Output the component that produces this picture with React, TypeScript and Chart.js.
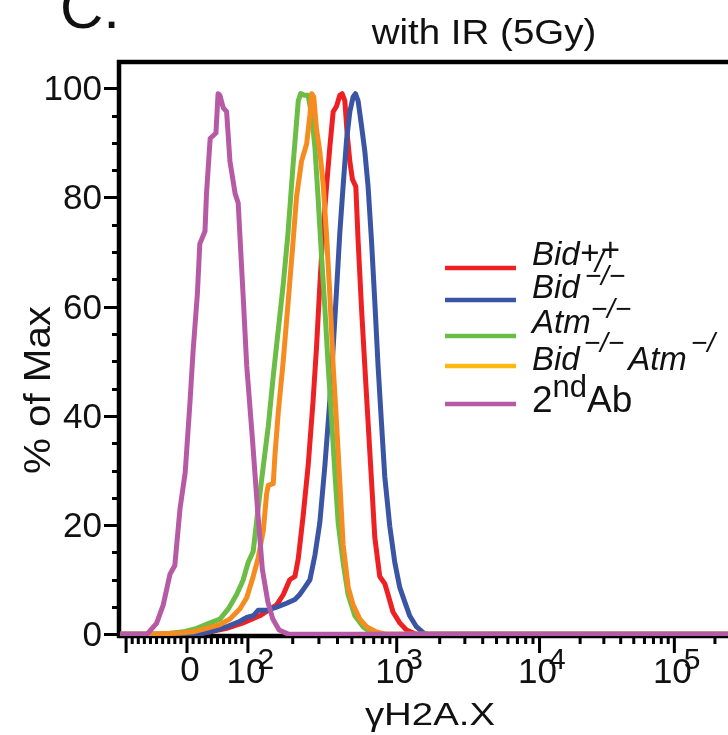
import React, { useEffect, useRef } from 'react';
import { Chart, registerables } from 'chart.js';

Chart.register(...registerables);

const FONT = '"Liberation Sans", Arial, Helvetica, sans-serif';

// ---- data: fluorescence intensity (gammaH2A.X) vs % of Max ----
const bidWtX = [-110, 10.4, 38, 65, 92, 120, 156, 173, 191, 207, 218, 235, 254, 274, 289, 304, 320, 337.5, 355, 374, 394, 414.5, 429.5, 448, 464, 484, 504, 531, 550, 580, 610, 642, 676.5, 712, 769, 831, 874, 944, 1050, 1169, 1373, 1e6];
const bidWtY = [0, 0, 0.46, 1.1, 2.1, 3.4, 5.4, 7.3, 10, 10.6, 13.9, 21.7, 30.9, 42.7, 52.5, 63.7, 74.1, 82, 89.2, 95.7, 96.7, 98.7, 99, 97.7, 91.8, 86.6, 83.3, 82, 72.2, 59.7, 49.2, 38.8, 28.3, 17.8, 10.6, 9.3, 7.3, 4.1, 2.1, 0.8, 0, 0];

const bidKoX = [-110, 16, 38, 65, 87, 98, 108.5, 117, 133.5, 156, 182, 207, 223, 241, 261, 282, 304, 329, 355, 374, 394, 414.5, 436, 460, 484, 509, 528, 550, 580, 610, 642, 676.5, 712, 749, 789.5, 831, 898, 970, 1050, 1137, 1233, 1373, 1570, 1701, 1e6];
const bidKoY = [0, 0, 0.46, 1.4, 2.4, 3.1, 3.4, 4.4, 4.4, 5, 5.7, 6.4, 7.3, 8.6, 10, 14.5, 20.4, 30.9, 42.7, 52.5, 63, 73.5, 82, 90.5, 95.7, 98.4, 99, 97.7, 93.1, 88.5, 82, 72.2, 61, 49.2, 38.8, 28.9, 19.8, 13.2, 8.6, 6, 3.4, 1.4, 0.1, 0, 0];

const atmKoX = [-110, -44, -6, 16, 38, 54, 68, 81.5, 92, 100.5, 108.5, 117, 127, 137, 148, 160, 173, 186, 201, 218, 226, 241, 254, 268, 282, 296, 312, 329, 346, 365, 384, 404, 436, 471, 523, 594, 693, 1e6];
const atmKoY = [0, 0, 0.46, 1.1, 2.1, 2.8, 4.7, 7.3, 9.9, 13.2, 15.2, 23, 30.9, 38.1, 47.3, 55.8, 64.3, 73.5, 85.9, 97.7, 99, 98.7, 98.7, 95.1, 89.2, 80, 69.5, 59.7, 49.2, 39.4, 29.6, 20.4, 13.2, 7.3, 3.4, 1.4, 0, 0];

const dkoX = [-110, -61, -11.5, 10.4, 32, 54, 70.5, 87, 98, 108.5, 117, 127, 133.5, 137, 148, 152, 160, 172.5, 186.5, 201.5, 212, 229, 248, 261, 268, 277, 289, 304, 320, 338, 355, 374, 394, 415, 436, 472, 509, 565, 627, 731, 853, 1e6];
const dkoY = [0, 0, 0.26, 0.46, 1.1, 1.8, 2.8, 4.7, 6.7, 10.6, 13.9, 19.1, 25.7, 27.3, 27.6, 32.9, 40.7, 49.9, 61, 72.2, 80, 86.6, 89.8, 95.1, 99, 98.4, 92.5, 88.5, 82.6, 72.8, 62.3, 49.2, 38.8, 27.6, 16.5, 8.6, 5.4, 2.8, 1.4, 0.46, 0, 0];

const secAbX = [-110, -66, -50, -39, -28, -20, -11.5, -3, 5, 10, 17, 21, 29.5, 32, 38, 47.5, 51, 54, 59.5, 65, 70.5, 79, 84, 92, 98, 107, 116, 125, 136, 147, 162, 188, 1e6];
const secAbY = [0, 0, 2, 5.4, 11, 12.6, 23, 29.6, 42.7, 51.9, 62.3, 71.5, 73.8, 80.7, 90.8, 91.8, 99, 98.7, 96.4, 95.7, 86.6, 80.7, 79, 62.3, 49.2, 36.1, 23, 11.9, 6, 2.8, 0.8, 0, 0];

const seriesNames = ['Bid+/+', 'Bid\u2212/\u2212', 'Atm\u2212/\u2212', 'Bid\u2212/\u2212 Atm\u2212/\u2212', '2nd Ab'];
const seriesColors = ['#ED2024', '#3A55A4', '#6CBD45', '#F68B1F', '#B75AA6'];
const legendLineColors = ['#ED2024', '#3A55A4', '#6CBD45', '#FDB913', '#B75AA6'];
const drawOrder = [4, 3, 2, 1, 0]; // later overlays on top

const yTickValues = [0, 20, 40, 60, 80, 100];
const xDecadeTicks = [100, 1000, 10000, 100000];
const xDecadeExp = ['2', '3', '4', '5'];

const X_MIN = -110;
const X_MAX = 250000;
const Y_MIN = -0.3;
const Y_MAX = 104.8;

// ---- axis transform (biexponential display: linear near zero, log above) ----
const LIN_LIMIT = 100;
const LIN_WIDTH = 61 / 149;
const DECADE_WIDTHS = [1, 143 / 149, 135 / 149, 135 / 149];

function toDisplay(v: number): number {
  if (v <= LIN_LIMIT) return (v / LIN_LIMIT) * LIN_WIDTH;
  const lg = Math.log10(v);
  let d = LIN_WIDTH;
  for (let k = 0; k < DECADE_WIDTHS.length; k++) {
    const f = Math.min(Math.max(lg - (2 + k), 0), 1);
    d += f * DECADE_WIDTHS[k];
  }
  const over = lg - (2 + DECADE_WIDTHS.length);
  if (over > 0) d += over * DECADE_WIDTHS[DECADE_WIDTHS.length - 1];
  return d;
}

function minorXTicks(): number[] {
  const out: number[] = [];
  for (let v = -90; v <= 90; v += 10) if (v !== 0) out.push(v);
  for (let e = 2; e <= 5; e++) for (let k = 2; k <= 9; k++) out.push(k * Math.pow(10, e));
  return out;
}
const majorXTicks = [-100, 0, 100, 1000, 10000, 100000];

function txt(ctx: CanvasRenderingContext2D, s: string, x: number, y: number, font: string, align: CanvasTextAlign = 'left', sx = 1) {
  ctx.save();
  ctx.font = font;
  ctx.textAlign = align;
  ctx.textBaseline = 'alphabetic';
  ctx.fillStyle = '#111';
  ctx.translate(x, y);
  ctx.scale(sx, 1);
  ctx.fillText(s, 0, 0);
  ctx.restore();
}

function width(ctx: CanvasRenderingContext2D, s: string, font: string) {
  ctx.save();
  ctx.font = font;
  const w = ctx.measureText(s).width;
  ctx.restore();
  return w;
}

type Seg = { t: string; size: number; italic: boolean; dy: number; dx: number };

const MINUS = '\u2212';
const legendSegs: Seg[][] = [
  [
    { t: 'Bid', size: 33, italic: true, dy: 0, dx: 0 },
    { t: '+', size: 33, italic: true, dy: -1, dx: 0 },
    { t: '/', size: 30, italic: true, dy: 7, dx: -4 },
    { t: '+', size: 33, italic: true, dy: -4, dx: -3 },
  ],
  [
    { t: 'Bid', size: 33, italic: true, dy: 0, dx: 0 },
    { t: MINUS + '/' + MINUS, size: 28, italic: true, dy: -13, dx: 5 },
  ],
  [
    { t: 'Atm', size: 33, italic: true, dy: 0, dx: 0 },
    { t: MINUS + '/' + MINUS, size: 28, italic: true, dy: -15, dx: 0 },
  ],
  [
    { t: 'Bid', size: 33, italic: true, dy: 0, dx: 0 },
    { t: MINUS + '/' + MINUS, size: 28, italic: true, dy: -18, dx: 4 },
    { t: 'Atm', size: 33, italic: true, dy: 0, dx: 4 },
    { t: MINUS + '/', size: 28, italic: true, dy: -18, dx: 4 },
  ],
  [
    { t: '2', size: 37, italic: false, dy: 0, dx: 0 },
    { t: 'nd', size: 31, italic: false, dy: -15, dx: 0 },
    { t: 'Ab', size: 37, italic: false, dy: 0, dx: 0 },
  ],
];
const legendRowY = [268, 300, 336, 366, 404];
const legendBaseY = [265, 298, 333, 370, 412];

const decorPlugin = {
  id: 'decor',
  beforeDatasetsDraw(chart: any) {
    const { ctx, chartArea: a, scales } = chart;
    const xs = scales.x;
    const ys = scales.y;
    ctx.save();
    ctx.strokeStyle = '#000';
    ctx.lineCap = 'butt';
    ctx.lineWidth = 4.5;
    const lx = a.left - 1;
    ctx.beginPath();
    ctx.moveTo(lx, a.top - 2);
    ctx.lineTo(lx, a.bottom + 2);
    ctx.moveTo(lx - 2, a.top);
    ctx.lineTo(chart.width, a.top);
    ctx.moveTo(lx - 2, a.bottom);
    ctx.lineTo(chart.width, a.bottom);
    ctx.stroke();

    ctx.lineWidth = 3;
    ctx.beginPath();
    for (let v = 0; v <= 100; v += 5) {
      const py = Math.round(ys.getPixelForValue(v)) + 0.5;
      const len = v % 20 === 0 ? 15 : 7;
      ctx.moveTo(lx - len, py);
      ctx.lineTo(lx, py);
    }
    const drawX = (v: number, len: number) => {
      const px = xs.getPixelForValue(toDisplay(v));
      if (px < a.left - 4 || px > chart.width + 2) return;
      ctx.moveTo(px, a.bottom);
      ctx.lineTo(px, a.bottom + len);
    };
    majorXTicks.forEach((v) => drawX(v, 17));
    minorXTicks().forEach((v) => drawX(v, 8));
    ctx.stroke();
    ctx.restore();
  },
  afterDraw(chart: any) {
    const { ctx, chartArea: a, scales } = chart;
    const xs = scales.x;
    const ys = scales.y;
    const f = (s: number, it = false) => `${it ? 'italic ' : ''}${s}px ${FONT}`;

    // y tick labels
    yTickValues.forEach((v) => {
      const py = ys.getPixelForValue(v);
      txt(ctx, String(v), a.left - 18, py + 12, f(35), 'right');
    });
    // x tick labels
    const p0 = xs.getPixelForValue(toDisplay(0));
    txt(ctx, '0', p0 + 3, 681, f(35), 'center');
    xDecadeTicks.forEach((v, i) => {
      const px = xs.getPixelForValue(toDisplay(v)) - 2;
      const w10 = width(ctx, '10', f(35));
      txt(ctx, '10', px, 683, f(35), 'center');
      txt(ctx, xDecadeExp[i], px + w10 / 2 - 8, 669, f(30), 'left');
    });

    // titles
    txt(ctx, 'with IR (5Gy)', 484, 44, f(35), 'center', 1.1);
    txt(ctx, '\u03B3H2A.X', 430, 725, f(32), 'center', 1.2);
    ctx.save();
    ctx.translate(50, 390);
    ctx.rotate(-Math.PI / 2);
    txt(ctx, '% of Max', 0, 0, f(36), 'center', 1.12);
    ctx.restore();
    txt(ctx, 'C.', 60, 28, f(60), 'left');

    // legend
    ctx.save();
    ctx.lineWidth = 4.5;
    legendSegs.forEach((segs, i) => {
      ctx.strokeStyle = legendLineColors[i];
      ctx.beginPath();
      ctx.moveTo(445, legendRowY[i]);
      ctx.lineTo(516, legendRowY[i]);
      ctx.stroke();
      let x = 532;
      segs.forEach((sg) => {
        x += sg.dx;
        const font = f(sg.size, sg.italic);
        txt(ctx, sg.t, x, legendBaseY[i] + sg.dy, font, 'left');
        x += width(ctx, sg.t, font);
      });
    });
    ctx.restore();
  },
};

export default function App() {
  const ref = useRef<HTMLCanvasElement>(null);
  useEffect(() => {
    const canvas = ref.current;
    if (!canvas) return;
    const series = [
      [bidWtX, bidWtY],
      [bidKoX, bidKoY],
      [atmKoX, atmKoY],
      [dkoX, dkoY],
      [secAbX, secAbY],
    ];
    const datasets = series.map(([xv, yv], i) => ({
      label: seriesNames[i],
      data: xv.map((v, j) => ({ x: toDisplay(v), y: yv[j] })),
      borderColor: seriesColors[i],
      backgroundColor: seriesColors[i],
      borderWidth: 5,
      pointRadius: 0,
      tension: 0,
      fill: false,
      order: drawOrder[i],
      borderJoinStyle: 'round' as const,
    }));
    const chart = new Chart(canvas, {
      type: 'line',
      data: { datasets },
      options: {
        animation: false,
        responsive: false,
        maintainAspectRatio: false,
        parsing: false,
        layout: { padding: { left: 120, right: 0, top: 62, bottom: 99 } },
        scales: {
          x: { type: 'linear', min: toDisplay(X_MIN), max: toDisplay(X_MAX), display: false },
          y: { type: 'linear', min: Y_MIN, max: Y_MAX, display: false },
        },
        plugins: { legend: { display: false }, tooltip: { enabled: false } },
      },
      plugins: [decorPlugin],
    });
    return () => chart.destroy();
  }, []);
  return (
    <div style={{ position: 'absolute', left: 0, top: 0, width: 728, height: 735, background: '#fff' }}>
      <canvas ref={ref} width={728} height={735} style={{ display: 'block', width: 728, height: 735 }} />
    </div>
  );
}
